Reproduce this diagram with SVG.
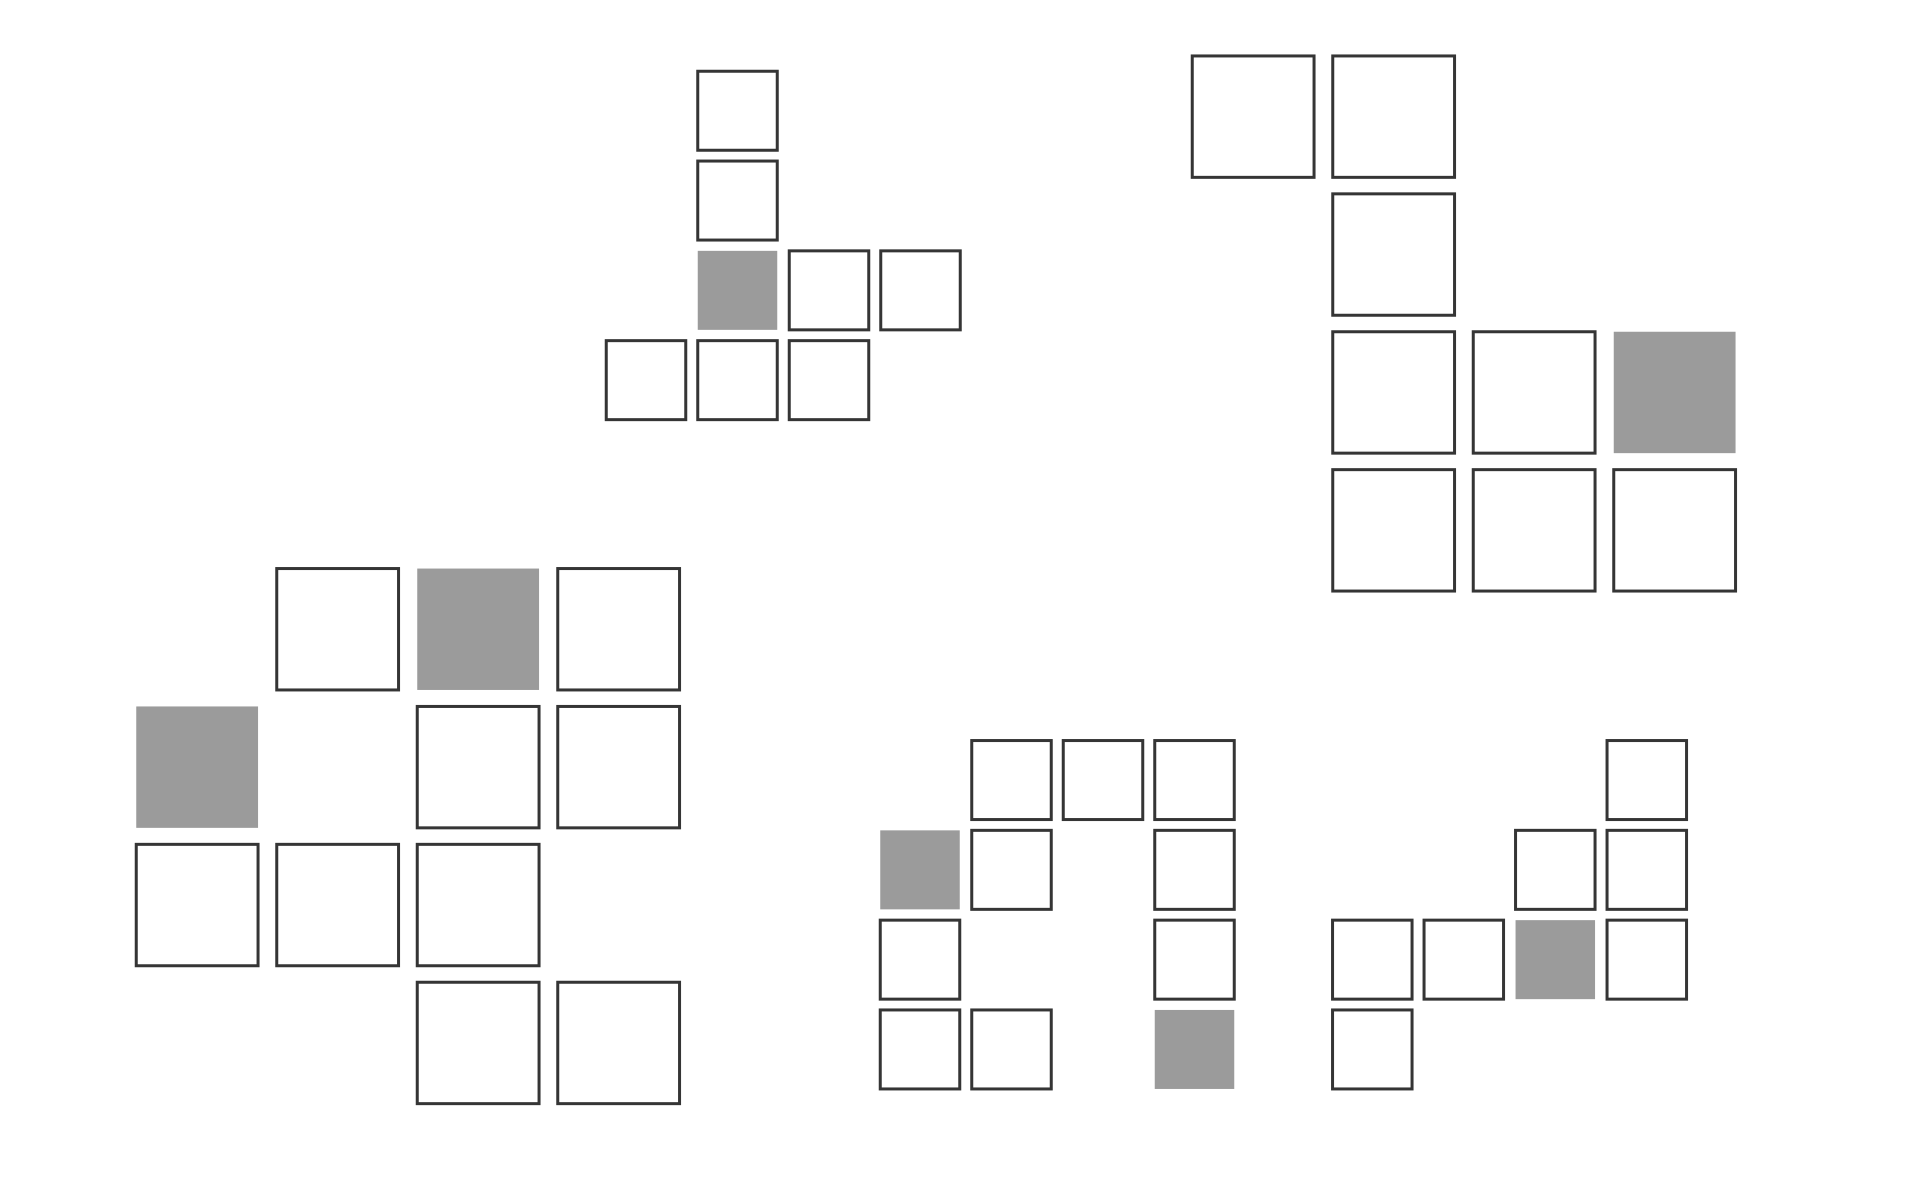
<svg xmlns="http://www.w3.org/2000/svg" width="1920" height="1200" viewBox="0 0 1920 1200">
<style>
.b{fill:#ffffff;stroke:#353535;stroke-width:3}
.f{fill:#9b9b9b;stroke:none}
</style>
<rect x="0" y="0" width="1920" height="1200" fill="#ffffff"/>
<g id="cluster-top-small">
<g id="ts-r0c1"><rect class="b" x="697.75" y="71.25" width="79.5" height="79"/></g>
<g id="ts-r1c1"><rect class="b" x="697.75" y="161.05" width="79.5" height="79"/></g>
<g id="ts-r2c1"><rect class="f" x="697.75" y="250.85" width="79.5" height="79"/></g>
<g id="ts-r2c2"><rect class="b" x="789.25" y="250.85" width="79.5" height="79"/></g>
<g id="ts-r2c3"><rect class="b" x="880.75" y="250.85" width="79.5" height="79"/></g>
<g id="ts-r3c0"><rect class="b" x="606.25" y="340.65" width="79.5" height="79"/></g>
<g id="ts-r3c1"><rect class="b" x="697.75" y="340.65" width="79.5" height="79"/></g>
<g id="ts-r3c2"><rect class="b" x="789.25" y="340.65" width="79.5" height="79"/></g>
</g>
<g id="cluster-top-large">
<g id="tl-r0c0"><rect class="b" x="1192.25" y="55.95" width="121.8" height="121.4"/></g>
<g id="tl-r0c1"><rect class="b" x="1332.75" y="55.95" width="121.8" height="121.4"/></g>
<g id="tl-r1c1"><rect class="b" x="1332.75" y="193.85" width="121.8" height="121.4"/></g>
<g id="tl-r2c1"><rect class="b" x="1332.75" y="331.75" width="121.8" height="121.4"/></g>
<g id="tl-r2c2"><rect class="b" x="1473.25" y="331.75" width="121.8" height="121.4"/></g>
<g id="tl-r2c3"><rect class="f" x="1613.75" y="331.75" width="121.8" height="121.4"/></g>
<g id="tl-r3c1"><rect class="b" x="1332.75" y="469.65" width="121.8" height="121.4"/></g>
<g id="tl-r3c2"><rect class="b" x="1473.25" y="469.65" width="121.8" height="121.4"/></g>
<g id="tl-r3c3"><rect class="b" x="1613.75" y="469.65" width="121.8" height="121.4"/></g>
</g>
<g id="cluster-bottom-large">
<g id="bl-r0c1"><rect class="b" x="276.75" y="568.55" width="121.8" height="121.4"/></g>
<g id="bl-r0c2"><rect class="f" x="417.25" y="568.55" width="121.8" height="121.4"/></g>
<g id="bl-r0c3"><rect class="b" x="557.75" y="568.55" width="121.8" height="121.4"/></g>
<g id="bl-r1c0"><rect class="f" x="136.25" y="706.45" width="121.8" height="121.4"/></g>
<g id="bl-r1c2"><rect class="b" x="417.25" y="706.45" width="121.8" height="121.4"/></g>
<g id="bl-r1c3"><rect class="b" x="557.75" y="706.45" width="121.8" height="121.4"/></g>
<g id="bl-r2c0"><rect class="b" x="136.25" y="844.35" width="121.8" height="121.4"/></g>
<g id="bl-r2c1"><rect class="b" x="276.75" y="844.35" width="121.8" height="121.4"/></g>
<g id="bl-r2c2"><rect class="b" x="417.25" y="844.35" width="121.8" height="121.4"/></g>
<g id="bl-r3c2"><rect class="b" x="417.25" y="982.25" width="121.8" height="121.4"/></g>
<g id="bl-r3c3"><rect class="b" x="557.75" y="982.25" width="121.8" height="121.4"/></g>
</g>
<g id="cluster-bottom-middle">
<g id="bm-r0c1"><rect class="b" x="971.75" y="740.55" width="79.5" height="79"/></g>
<g id="bm-r0c2"><rect class="b" x="1063.25" y="740.55" width="79.5" height="79"/></g>
<g id="bm-r0c3"><rect class="b" x="1154.75" y="740.55" width="79.5" height="79"/></g>
<g id="bm-r1c0"><rect class="f" x="880.25" y="830.35" width="79.5" height="79"/></g>
<g id="bm-r1c1"><rect class="b" x="971.75" y="830.35" width="79.5" height="79"/></g>
<g id="bm-r1c3"><rect class="b" x="1154.75" y="830.35" width="79.5" height="79"/></g>
<g id="bm-r2c0"><rect class="b" x="880.25" y="920.15" width="79.5" height="79"/></g>
<g id="bm-r2c3"><rect class="b" x="1154.75" y="920.15" width="79.5" height="79"/></g>
<g id="bm-r3c0"><rect class="b" x="880.25" y="1009.95" width="79.5" height="79"/></g>
<g id="bm-r3c1"><rect class="b" x="971.75" y="1009.95" width="79.5" height="79"/></g>
<g id="bm-r3c3"><rect class="f" x="1154.75" y="1009.95" width="79.5" height="79"/></g>
</g>
<g id="cluster-bottom-right">
<g id="br-r0c3"><rect class="b" x="1607.05" y="740.55" width="79.5" height="79"/></g>
<g id="br-r1c2"><rect class="b" x="1515.55" y="830.35" width="79.5" height="79"/></g>
<g id="br-r1c3"><rect class="b" x="1607.05" y="830.35" width="79.5" height="79"/></g>
<g id="br-r2c0"><rect class="b" x="1332.55" y="920.15" width="79.5" height="79"/></g>
<g id="br-r2c1"><rect class="b" x="1424.05" y="920.15" width="79.5" height="79"/></g>
<g id="br-r2c2"><rect class="f" x="1515.55" y="920.15" width="79.5" height="79"/></g>
<g id="br-r2c3"><rect class="b" x="1607.05" y="920.15" width="79.5" height="79"/></g>
<g id="br-r3c0"><rect class="b" x="1332.55" y="1009.95" width="79.5" height="79"/></g>
</g>
<g id="connectors"></g>
</svg>
